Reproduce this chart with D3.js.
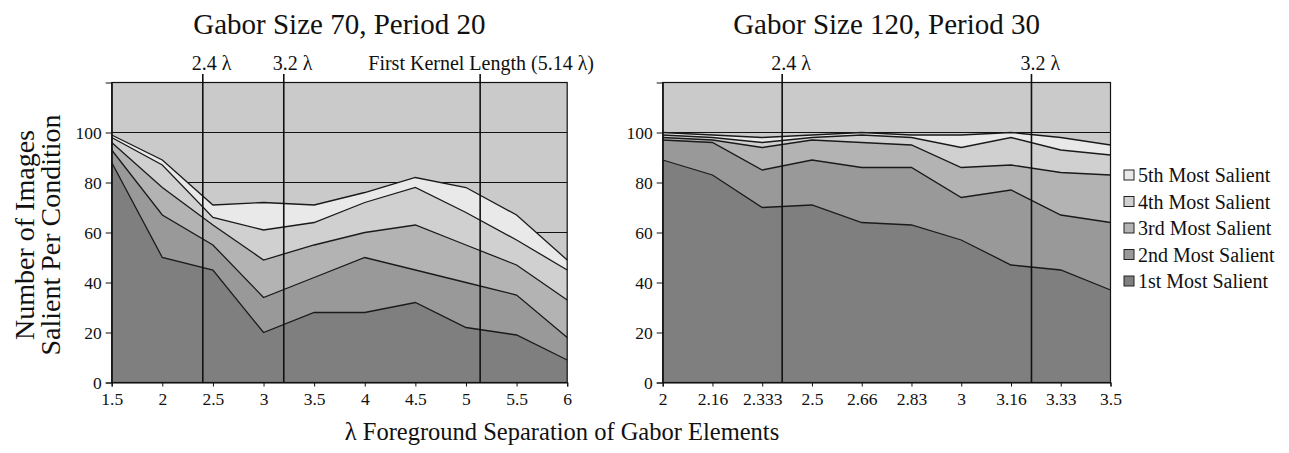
<!DOCTYPE html>
<html><head><meta charset="utf-8">
<script src="https://cdn.jsdelivr.net/npm/d3@7"></script>
<style>
body{margin:0;background:#fff}
svg{display:block}
svg text{font-family:"Liberation Serif","Times New Roman",Times,"DejaVu Serif",serif !important;fill:#111}
</style>
</head><body>
<svg id="chart" width="1289" height="453"></svg>
<script>
// ---------- data ----------
const seriesNames = ["1st Most Salient","2nd Most Salient","3rd Most Salient","4th Most Salient","5th Most Salient"];
const yTicks = [0,20,40,60,80,100];

const leftTitle = "Gabor Size 70, Period 20";
const leftCategories = ["1.5","2","2.5","3","3.5","4","4.5","5","5.5","6"];
const left1st = [88,50,45,20,28,28,32,22,19,9];
const left2nd = [5,17,10,14,14,22,13,18,16,9];
const left3rd = [3,11,8,15,13,10,18,15,12,15];
const left4th = [2,9,3,12,9,12,15,13,10,12];
const left5th = [1,2,5,11,7,4,4,10,10,4];
const leftMarkers = [
  {label:"2.4 λ", at:2.4},
  {label:"3.2 λ", at:3.2},
  {label:"First Kernel Length (5.14 λ)", at:5.14}
];

const rightTitle = "Gabor Size 120, Period 30";
const rightCategories = ["2","2.16","2.333","2.5","2.66","2.83","3","3.16","3.33","3.5"];
const right1st = [89,83,70,71,64,63,57,47,45,37];
const right2nd = [8,13,15,18,22,23,17,30,22,27];
const right3rd = [1,1,9,8,10,9,12,10,17,19];
const right4th = [1,1,2,1,3,3,8,11,9,8];
const right5th = [1,1,2,1,1,1,5,2,5,4];
const rightMarkers = [
  {label:"2.4 λ", at:2.4},
  {label:"3.2 λ", at:3.23}
];

const xTitle = "λ Foreground Separation of Gabor Elements";
const yTitleLines = ["Number of Images","Salient Per Condition"];

// ---------- style ----------
const layerColors = ["#7f7f7f","#999999","#b3b3b3","#d0d0d0","#e9e9e9"];
const plotBg = "#cacaca";
const ink = "#111";
const serif = '"Liberation Serif","Times New Roman",Times,"DejaVu Serif",serif';

const svg = d3.select("#chart");
const y = d3.scaleLinear().domain([0,120]).range([382.5,82.5]);

function panel(cfg){
  const {x0,x1,cats,series,markers,title} = cfg;
  const x = d3.scalePoint().domain(cats).range([x0,x1]).padding(0);
  const xv = d3.scaleLinear().domain(cats.map(Number)).range(cats.map(c=>x(c)));
  const keys = series.map((s,i)=>"k"+i);
  const table = cats.map((c,i)=>{const r={cat:c}; series.forEach((s,j)=>r["k"+j]=s[i]); return r;});
  const stacked = d3.stack().keys(keys)(table);
  const g = svg.append("g");

  g.append("rect").attr("x",x0).attr("y",y(120)).attr("width",x1-x0).attr("height",y(0)-y(120))
    .attr("fill",plotBg);
  g.selectAll(".grid").data(yTicks.filter(t=>t>0)).join("line")
    .attr("x1",x0).attr("x2",x1).attr("y1",d=>y(d)).attr("y2",d=>y(d))
    .attr("stroke",ink).attr("stroke-width",1.2);

  const area = d3.area().x(d=>x(d.data.cat)).y0(d=>y(d[0])).y1(d=>y(d[1]));
  const top = d3.line().x(d=>x(d.data.cat)).y(d=>y(d[1]));
  g.selectAll(".layer").data(stacked).join("path")
    .attr("d",area).attr("fill",(d,i)=>layerColors[i]);
  g.selectAll(".edge").data(stacked).join("path")
    .attr("d",top).attr("fill","none").attr("stroke","#1a1a1a").attr("stroke-width",1.3);

  g.append("rect").attr("x",x0).attr("y",y(120)).attr("width",x1-x0).attr("height",y(0)-y(120))
    .attr("fill","none").attr("stroke",ink).attr("stroke-width",1.2);

  const ya = g.append("g").attr("transform",`translate(${x0},0)`)
    .call(d3.axisLeft(y).tickValues(yTicks).tickSize(6).tickPadding(4));
  const xa = g.append("g").attr("transform",`translate(0,${y(0)})`)
    .call(d3.axisBottom(x).tickSize(4).tickPadding(6));
  [ya,xa].forEach(a=>{
    a.attr("font-family",serif).attr("font-size",17.5);
    a.select(".domain").attr("stroke",ink).attr("stroke-width",1.2);
    a.selectAll(".tick line").attr("stroke",ink);
    a.selectAll("text").attr("fill",ink);
  });

  markers.forEach(m=>{
    const mx = xv(m.at);
    g.append("line").attr("x1",mx).attr("x2",mx).attr("y1",74).attr("y2",y(0))
      .attr("stroke",ink).attr("stroke-width",1.6);
    const long = m.label.length > 8;
    g.append("text").attr("x", long ? mx+1 : mx-11).attr("y",70)
      .attr("text-anchor", long ? "middle" : "start")
      .attr("font-size",20).text(m.label);
  });

  g.append("text").attr("x",(x0+x1)/2).attr("y",34).attr("text-anchor","middle")
    .attr("font-size",29).text(title);
}

panel({x0:111.7,x1:567.2,cats:leftCategories,series:[left1st,left2nd,left3rd,left4th,left5th],markers:leftMarkers,title:leftTitle});
panel({x0:662.7,x1:1110.5,cats:rightCategories,series:[right1st,right2nd,right3rd,right4th,right5th],markers:rightMarkers,title:rightTitle});

// axis titles
svg.append("text").attr("x",562).attr("y",440).attr("text-anchor","middle")
  .attr("font-size",24.5).text(xTitle);
yTitleLines.forEach((t,i)=>{
  svg.append("text").attr("transform",`translate(${34+i*26},235) rotate(-90)`)
    .attr("text-anchor","middle").attr("font-size",28).text(t);
});

// legend (top item = 5th)
const legendOrder = seriesNames.map((n,i)=>({n,i})).reverse();
const lg = svg.append("g").attr("transform","translate(1124,175)");
legendOrder.forEach((d,k)=>{
  const row = lg.append("g").attr("transform",`translate(0,${k*26.5})`);
  row.append("rect").attr("x",0).attr("y",-5).attr("width",10).attr("height",10)
    .attr("fill",layerColors[d.i]).attr("stroke","#222").attr("stroke-width",1);
  row.append("text").attr("x",14).attr("y",0).attr("dy","0.35em").attr("font-size",20).text(d.n);
});
</script>
</body></html>
